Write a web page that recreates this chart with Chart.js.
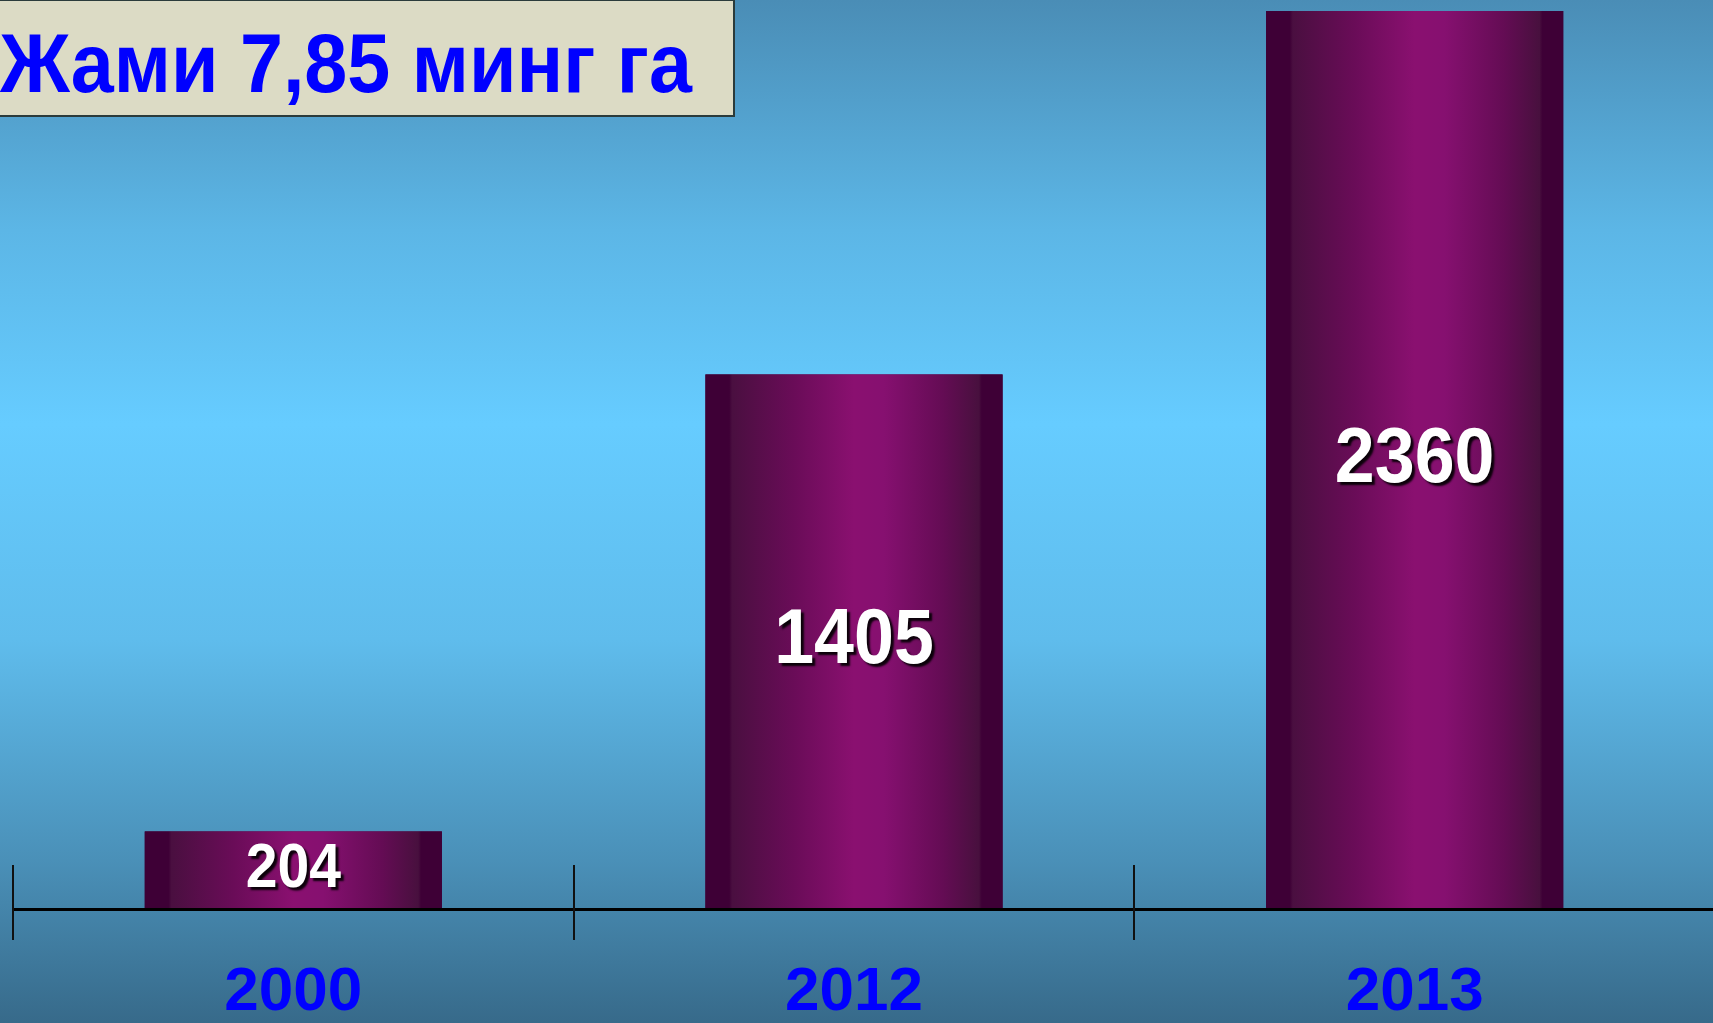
<!DOCTYPE html>
<html>
<head>
<meta charset="utf-8">
<script src="https://cdn.jsdelivr.net/npm/chart.js@4/dist/chart.umd.min.js"></script>
<style>
    html, body { margin: 0; padding: 0; overflow: hidden; }
    body { width: 1713px; height: 1023px; }
    #wrap {
        position: relative;
        width: 1713px;
        height: 1092px;
        background: linear-gradient(to bottom, #4a8db6 0px, #5cb6e6 230px, #66ccff 424px, #5fbcec 640px, #4a90b8 860px, #376a8a 1023px, #356686 1092px);
    }
    #chartBox { position: absolute; left: 0; top: 0; width: 1713px; height: 1092px; }
    #title {
        position: absolute;
        left: -2px;
        top: -1px;
        width: 737px;
        height: 118px;
        box-sizing: border-box;
        border: 2px solid #2b3b3b;
        background: #dcdbc5;
        overflow: hidden;
        white-space: nowrap;
        font-family: "Liberation Sans", Arial, sans-serif;
        font-weight: bold;
        font-size: 84px;
        line-height: 125px;
        color: #0000ff;
    }
    #title span { display: inline-block; transform: scaleX(0.92); transform-origin: left center; }
</style>
</head>
<body>
<div id="wrap">
    <div id="chartBox"><canvas id="chart"></canvas></div>
    <div id="title"><span>Жами 7,85 минг га</span></div>
</div>
<script>
const years = ['2000', '2012', '2013'];
const areaValues = [204, 1405, 2360];

const fontFamily = '"Liberation Sans", Arial, sans-serif';

// purple "cylinder" shading painted over each bar's own rectangle
const barShade = {
    id: 'barShade',
    afterDatasetsDraw(chart) {
        const ctx = chart.ctx;
        chart.getDatasetMeta(0).data.forEach(bar => {
            const p = bar.getProps(['x', 'y', 'base', 'width'], true);
            const left = p.x - p.width / 2;
            const right = p.x + p.width / 2;
            const g = ctx.createLinearGradient(left, 0, right, 0);
            g.addColorStop(0, '#3e0036');
            g.addColorStop(0.08, '#3e0036');
            g.addColorStop(0.09, '#4a0f40');
            g.addColorStop(0.3, '#6a0c58');
            g.addColorStop(0.5, '#8a1070');
            g.addColorStop(0.6, '#861070');
            g.addColorStop(0.8, '#640c54');
            g.addColorStop(0.92, '#48103e');
            g.addColorStop(0.93, '#3e0036');
            g.addColorStop(1, '#3e0036');
            ctx.save();
            ctx.fillStyle = g;
            ctx.fillRect(left, p.y, p.width, p.base - p.y);
            ctx.restore();
        });
    }
};

// white value labels inside bars, with dark shadow
const barLabels = {
    id: 'barLabels',
    afterDatasetsDraw(chart) {
        const ctx = chart.ctx;
        const data = chart.data.datasets[0].data;
        chart.getDatasetMeta(0).data.forEach((bar, i) => {
            const h = bar.base - bar.y;
            const size = Math.min(78, h * 0.8);
            ctx.save();
            ctx.translate(bar.x, (bar.y + bar.base) / 2);
            ctx.scale(0.92, 1);
            ctx.font = 'bold ' + size + 'px ' + fontFamily;
            ctx.textAlign = 'center';
            ctx.textBaseline = 'middle';
            ctx.shadowColor = 'rgba(0,0,0,0.9)';
            ctx.shadowOffsetX = 3;
            ctx.shadowOffsetY = 3;
            ctx.shadowBlur = 2;
            ctx.fillStyle = '#ffffff';
            ctx.fillText(String(data[i]), 0, 0);
            ctx.restore();
        });
    }
};

// axis line run out to the page edge, plus category separators crossing it
const axisTicks = {
    id: 'axisTicks',
    afterDraw(chart) {
        const ctx = chart.ctx;
        const x = chart.scales.x;
        const area = chart.chartArea;
        const yAxis = Math.round(area.bottom);
        ctx.save();
        ctx.strokeStyle = '#000';
        ctx.lineWidth = 3;
        ctx.beginPath();
        ctx.moveTo(area.left, yAxis + 0.5);
        ctx.lineTo(chart.width, yAxis + 0.5);
        ctx.stroke();
        ctx.strokeStyle = '#111';
        ctx.lineWidth = 2;
        for (let i = 0; i < years.length; i++) {
            const px = Math.round(x.getPixelForValue(i - 0.5));
            ctx.beginPath();
            ctx.moveTo(px, yAxis - 44);
            ctx.lineTo(px, yAxis + 31);
            ctx.stroke();
        }
        ctx.restore();
    }
};

new Chart(document.getElementById('chart'), {
    type: 'bar',
    data: {
        labels: years,
        datasets: [{
            data: areaValues,
            backgroundColor: '#3e0036',
            borderWidth: 0,
            barPercentage: 1,
            categoryPercentage: 0.53
        }]
    },
    options: {
        responsive: true,
        maintainAspectRatio: false,
        animation: false,
        layout: { padding: { top: 11, left: 13, right: 18, bottom: 15 } },
        scales: {
            y: { display: false, min: 0, max: 2360 },
            x: {
                grid: { display: false, drawTicks: false },
                border: { display: false },
                ticks: {
                    color: '#0000ff',
                    padding: 53,
                    font: { family: fontFamily, size: 62, weight: 'bold', lineHeight: 1 }
                }
            }
        },
        plugins: {
            legend: { display: false },
            tooltip: { enabled: false }
        }
    },
    plugins: [barShade, barLabels, axisTicks]
});
</script>
</body>
</html>
